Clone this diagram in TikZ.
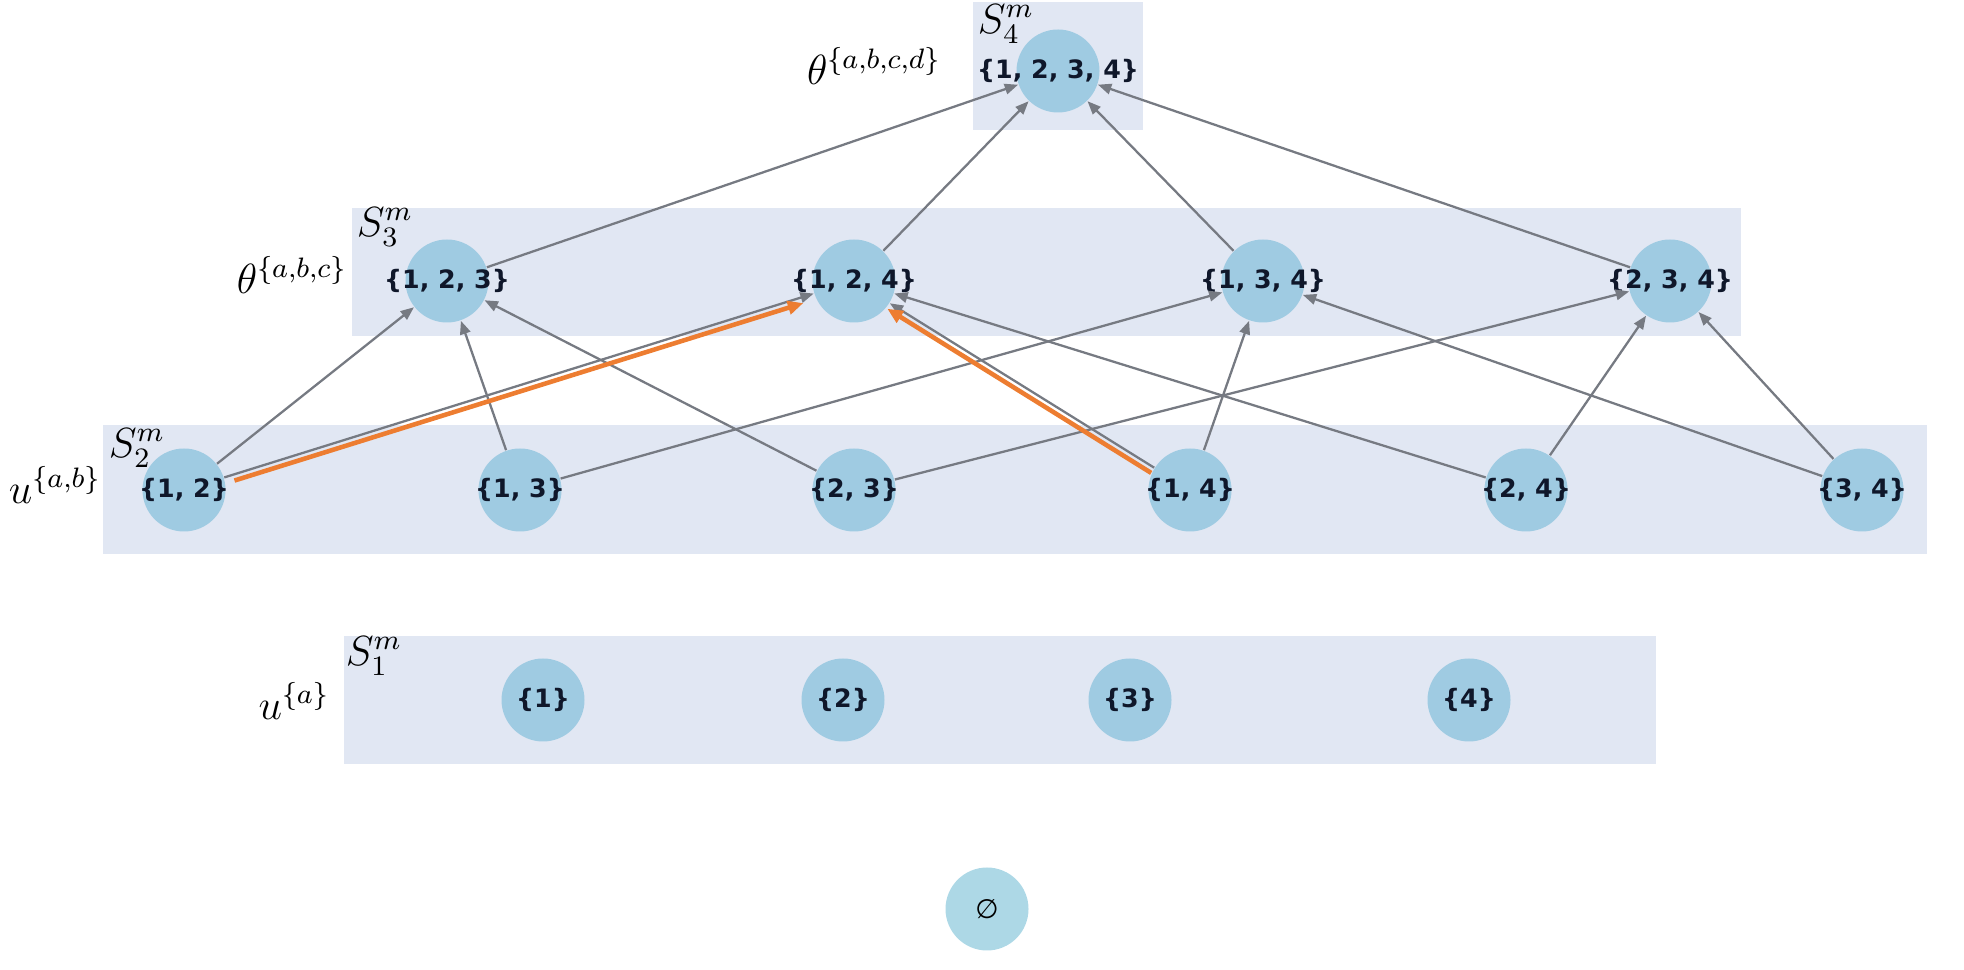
\documentclass[tikz,border=0pt]{standalone}
\usepackage{amsmath, amssymb}
\usepackage{fontspec}
\newfontfamily\setfont{DejaVu Sans}
\usetikzlibrary{arrows.meta,calc}

\definecolor{layerbg}{RGB}{225,231,243}
\definecolor{nodeblue}{RGB}{159,203,226}
\definecolor{emptyblue}{RGB}{173,216,230}
\definecolor{edgegray}{RGB}{118,122,130}
\definecolor{pathorange}{RGB}{237,125,49}
\definecolor{labelink}{RGB}{15,23,42}

\begin{document}
\begin{tikzpicture}[x=0.1mm,y=-0.1mm,
    layer/.style={fill=layerbg},
    setnode/.style={circle,fill=nodeblue,minimum size=8.3mm,inner sep=0pt},
    setname/.style={font=\fontsize{7.2}{8.6}\selectfont\setfont\bfseries,text=labelink,inner sep=0pt},
    levelname/.style={font=\fontsize{12}{14}\selectfont,inner sep=0pt},
    hasse/.style={draw=edgegray,line width=0.65pt,-{Triangle[length=3.8pt,width=3pt]}},
    lift/.style={draw=pathorange,line width=1.3pt,-{Triangle[length=4.4pt,width=3.8pt]}}]
    \useasboundingbox (0,0) rectangle (1964,970);
    % Layers
    \fill[layer] (973,2) rectangle (1143,130);
    \fill[layer] (352,208) rectangle (1741,336);
    \fill[layer] (103,425) rectangle (1927,554);
    \fill[layer] (344,636) rectangle (1656,764);
    \node[levelname] (s4) at (1006,24) {$S_4^m$};
    \node[levelname] (s3) at (385,227) {$S_3^m$};
    \node[levelname] (s2) at (137,448) {$S_2^m$};
    \node[levelname] (s1) at (374,656) {$S_1^m$};
    % Level names
    \node[levelname] (t4) at (874,66) {$\theta^{\{a,b,c,d\}}$};
    \node[levelname] (t3) at (292,275) {$\theta^{\{a,b,c\}}$};
    \node[levelname] (u2) at (55,485) {$u^{\{a,b\}}$};
    \node[levelname] (u1) at (294,701) {$u^{\{a\}}$};
    % Subsets
    \node[setnode,label={[setname]center:{\{1, 2, 3, 4\}}}] (n1234) at (1058,71) {};
    \node[setnode,label={[setname]center:{\{1, 2, 3\}}}] (n123) at (447,281) {};
    \node[setnode,label={[setname]center:{\{1, 2, 4\}}}] (n124) at (854,281) {};
    \node[setnode,label={[setname]center:{\{1, 3, 4\}}}] (n134) at (1263,281) {};
    \node[setnode,label={[setname]center:{\{2, 3, 4\}}}] (n234) at (1670,281) {};
    \node[setnode,label={[setname]center:{\{1, 2\}}}] (n12) at (184,490) {};
    \node[setnode,label={[setname]center:{\{1, 3\}}}] (n13) at (520,490) {};
    \node[setnode,label={[setname]center:{\{2, 3\}}}] (n23) at (854,490) {};
    \node[setnode,label={[setname]center:{\{1, 4\}}}] (n14) at (1190,490) {};
    \node[setnode,label={[setname]center:{\{2, 4\}}}] (n24) at (1526,490) {};
    \node[setnode,label={[setname]center:{\{3, 4\}}}] (n34) at (1862,490) {};
    \node[setnode,label={[setname]center:{\{1\}}}] (n1) at (543,700) {};
    \node[setnode,label={[setname]center:{\{2\}}}] (n2) at (843,700) {};
    \node[setnode,label={[setname]center:{\{3\}}}] (n3) at (1130,700) {};
    \node[setnode,label={[setname]center:{\{4\}}}] (n4) at (1469,700) {};
    \node[setnode,fill=emptyblue,font=\fontsize{7.6}{9}\selectfont\setfont] (n0) at (987,909) {∅};
    % Hasse edges
    \draw[hasse] (n123) -- (n1234);
    \draw[hasse] (n124) -- (n1234);
    \draw[hasse] (n134) -- (n1234);
    \draw[hasse] (n234) -- (n1234);
    \draw[hasse] (n12) -- (n123);
    \draw[hasse] (n12) -- (n124);
    \draw[hasse] (n13) -- (n123);
    \draw[hasse] (n13) -- (n134);
    \draw[hasse] (n23) -- (n123);
    \draw[hasse] (n23) -- (n234);
    \draw[hasse] (n14) -- (n124);
    \draw[hasse] (n14) -- (n134);
    \draw[hasse] (n24) -- (n124);
    \draw[hasse] (n24) -- (n234);
    \draw[hasse] (n34) -- (n134);
    \draw[hasse] (n34) -- (n234);
    % Highlighted steps
    \coordinate (a12) at ($(n12)!0.6mm!-90:(n124)$);
    \coordinate (b12) at ($(n124)!0.6mm!90:(n12)$);
    \coordinate (a14) at ($(n14)!0.6mm!90:(n124)$);
    \coordinate (b14) at ($(n124)!0.6mm!-90:(n14)$);
    \draw[lift,shorten <=5.1mm,shorten >=5.5mm] (a12) -- (b12);
    \draw[lift,shorten <=4.2mm,shorten >=4.3mm] (a14) -- (b14);
\end{tikzpicture}
\end{document}
